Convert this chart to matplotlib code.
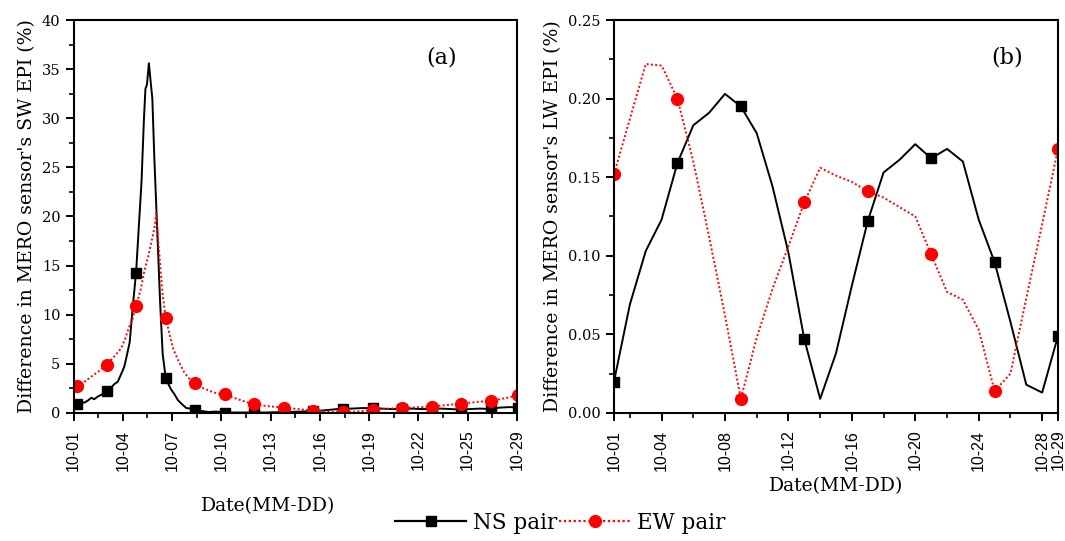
import numpy as np
import matplotlib.pyplot as plt
from matplotlib.lines import Line2D
from matplotlib.ticker import MultipleLocator, FixedLocator

# ---- panel (a): SW EPI difference, x in tick units (0 -> 10-01, 9 -> 10-29)
a_tick_labels = ['10-01', '10-04', '10-07', '10-10', '10-13',
                 '10-16', '10-19', '10-22', '10-25', '10-29']

a_ns_x = [0.07, 0.15, 0.22, 0.30, 0.36, 0.42, 0.50, 0.58, 0.67, 0.75,
          0.82, 0.90, 0.97, 1.03, 1.08, 1.14, 1.21, 1.27, 1.32, 1.38,
          1.43, 1.46, 1.49, 1.53, 1.57, 1.60, 1.64, 1.68, 1.72, 1.76,
          1.81, 1.87, 1.93, 1.98, 2.05, 2.12, 2.20, 2.29, 2.38, 2.47,
          2.60, 2.75, 2.90, 3.07, 3.30, 3.50, 3.67, 3.90, 4.10, 4.27,
          4.45, 4.65, 4.87, 5.05, 5.25, 5.47, 5.65, 5.85, 6.07, 6.25,
          6.45, 6.67, 6.85, 7.05, 7.27, 7.45, 7.65, 7.87, 8.05, 8.25,
          8.47, 8.65, 8.85, 9.07]
a_ns_y = [0.95, 1.10, 1.05, 1.30, 1.55, 1.40, 1.70, 1.90, 2.20, 2.50,
          2.90, 3.20, 4.00, 4.70, 5.80, 7.20, 11.2, 14.3, 18.5, 23.5,
          30.0, 33.0, 33.4, 35.6, 33.5, 32.0, 26.0, 21.0, 16.0, 11.0,
          6.00, 3.60, 2.90, 2.40, 1.90, 1.30, 0.90, 0.50, 0.45, 0.35,
          0.20, 0.10, 0.15, 0.05, 0.05, 0.05, 0.05, 0.05, 0.08, 0.10,
          0.12, 0.15, 0.20, 0.25, 0.35, 0.45, 0.45, 0.50, 0.50, 0.45,
          0.40, 0.40, 0.45, 0.40, 0.40, 0.45, 0.40, 0.35, 0.40, 0.45,
          0.40, 0.55, 0.60, 0.55]

a_ew_x = [0.07, 0.20, 0.36, 0.50, 0.67, 0.80, 0.97, 1.05, 1.14, 1.20,
          1.27, 1.36, 1.44, 1.52, 1.59, 1.64, 1.68, 1.72, 1.76, 1.81,
          1.87, 1.95, 2.02, 2.12, 2.25, 2.35, 2.47, 2.60, 2.79, 2.90,
          3.07, 3.25, 3.40, 3.55, 3.67, 3.85, 4.05, 4.27, 4.45, 4.65,
          4.87, 5.05, 5.25, 5.47, 5.65, 5.85, 6.07, 6.25, 6.45, 6.67,
          6.85, 7.05, 7.27, 7.45, 7.65, 7.87, 8.05, 8.25, 8.47, 8.65,
          8.85, 9.07]
a_ew_y = [2.70, 3.10, 3.70, 4.20, 4.90, 5.60, 6.60, 7.60, 8.90, 9.60,
          10.9, 12.5, 14.5, 16.0, 17.6, 18.8, 20.3, 17.5, 15.0, 12.0,
          9.70, 8.00, 6.60, 5.40, 4.10, 3.50, 3.05, 2.60, 2.20, 2.00,
          1.90, 1.55, 1.30, 1.05, 0.90, 0.75, 0.65, 0.55, 0.45, 0.35,
          0.25, 0.18, 0.12, 0.10, 0.12, 0.20, 0.30, 0.40, 0.45, 0.50,
          0.55, 0.60, 0.65, 0.75, 0.85, 0.95, 1.05, 1.15, 1.25, 1.40,
          1.60, 1.90]

a_mark_x = [0.07, 0.67, 1.27, 1.87, 2.47, 3.07, 3.67, 4.27,
            4.87, 5.47, 6.07, 6.67, 7.27, 7.87, 8.47, 9.02]
a_ns_mark = [0.95, 2.2, 14.3, 3.6, 0.35, 0.05, 0.05, 0.1,
             0.2, 0.45, 0.5, 0.4, 0.4, 0.35, 0.4, 0.55]
a_ew_mark = [2.7, 4.9, 10.9, 9.7, 3.05, 1.9, 0.9, 0.55,
             0.25, 0.1, 0.3, 0.5, 0.65, 0.95, 1.25, 1.8]

# ---- panel (b): LW EPI difference, daily
b_days = [1, 2, 3, 4, 5, 6, 7, 8, 9, 10, 11, 12, 13, 14, 15,
          16, 17, 18, 19, 20, 21, 22, 23, 24, 25, 26, 27, 28, 29]
b_ns = [0.020, 0.069, 0.103, 0.123, 0.159, 0.183, 0.191, 0.203, 0.195, 0.178,
        0.144, 0.102, 0.047, 0.009, 0.038, 0.081, 0.122, 0.153, 0.161, 0.171,
        0.162, 0.168, 0.160, 0.123, 0.096, 0.058, 0.018, 0.013, 0.049]
b_ew = [0.152, 0.187, 0.222, 0.221, 0.200, 0.160, 0.112, 0.062, 0.009, 0.048,
        0.079, 0.106, 0.134, 0.156, 0.151, 0.147, 0.141, 0.137, 0.131, 0.125,
        0.101, 0.077, 0.072, 0.053, 0.014, 0.025, 0.073, 0.120, 0.168]
b_major = [1, 4, 8, 12, 16, 20, 24, 28, 29]
b_tick_labels = ['10-01', '10-04', '10-08', '10-12', '10-16',
                 '10-20', '10-24', '10-28', '10-29']
b_minor = [2, 6, 10, 14, 18, 22, 26]

serif = 'DejaVu Serif'
sans = 'Liberation Sans'
red_dots = (0, (1, 1.2))

fig = plt.figure(figsize=(10.65, 5.41), dpi=100)
ax1 = fig.add_axes([73.5 / 1065, 128 / 541, 443.5 / 1065, 393 / 541])
ax2 = fig.add_axes([614 / 1065, 128 / 541, 444 / 1065, 393 / 541])

# panel a
ax1.plot(a_ns_x, a_ns_y, color='black', lw=1.4)
ax1.plot(a_ew_x, a_ew_y, color='red', lw=1.4, ls=red_dots)
ax1.plot(a_mark_x, a_ns_mark, ls='none', marker='s', ms=7.5, color='black')
ax1.plot(a_mark_x, a_ew_mark, ls='none', marker='o', ms=8.5, color='red')
ax1.set_xlim(0, 9)
ax1.set_ylim(0, 40)
ax1.xaxis.set_major_locator(FixedLocator(range(10)))
ax1.set_xticklabels(a_tick_labels)
ax1.xaxis.set_minor_locator(MultipleLocator(0.5))
ax1.yaxis.set_major_locator(MultipleLocator(5))
ax1.yaxis.set_minor_locator(MultipleLocator(2.5))
ax1.set_ylabel("Difference in MERO sensor's SW EPI (%)", fontsize=13.6,
               family=serif, labelpad=4)
ax1.text(0.83, 0.905, '(a)', transform=ax1.transAxes, fontsize=16,
         family=serif, ha='center', va='center')

# panel b
ax2.plot(b_days, b_ns, color='black', lw=1.4, marker='s', ms=7.5,
         markevery=4)
ax2.plot(b_days, b_ew, color='red', lw=1.4, ls=red_dots, marker='o',
         ms=8.5, markevery=4)
ax2.set_xlim(1, 29)
ax2.set_ylim(0, 0.25)
ax2.xaxis.set_major_locator(FixedLocator(b_major))
ax2.set_xticklabels(b_tick_labels)
ax2.xaxis.set_minor_locator(FixedLocator(b_minor))
ax2.yaxis.set_major_locator(MultipleLocator(0.05))
ax2.yaxis.set_minor_locator(MultipleLocator(0.025))
ax2.set_yticks([0, 0.05, 0.10, 0.15, 0.20, 0.25])
ax2.set_yticklabels(['0.00', '0.05', '0.10', '0.15', '0.20', '0.25'])
ax2.set_ylabel("Difference in MERO sensor's LW EPI (%)", fontsize=13.6,
               family=serif, labelpad=4)
ax2.text(0.885, 0.905, '(b)', transform=ax2.transAxes, fontsize=16,
         family=serif, ha='center', va='center')

for ax in (ax1, ax2):
    for sp in ax.spines.values():
        sp.set_linewidth(1.5)
    ax.tick_params(which='major', direction='out', length=6, width=1.4)
    ax.tick_params(which='minor', direction='out', length=3.5, width=1.2)
    ax.tick_params(axis='x', which='major', labelrotation=90, pad=6)
    for lab in ax.get_xticklabels():
        lab.set_family(sans)
        lab.set_fontsize(11.5)
    for lab in ax.get_yticklabels():
        lab.set_family(serif)
        lab.set_fontsize(10.5)

fig.text(268 / 1065, 1 - 506 / 541, 'Date(MM-DD)', family=serif,
         fontsize=13.5, ha='center', va='center')
fig.text(836 / 1065, 1 - 486 / 541, 'Date(MM-DD)', family=serif,
         fontsize=13.5, ha='center', va='center')

handles = [Line2D([], [], color='black', lw=1.6, marker='s', ms=7.5),
           Line2D([], [], color='red', lw=1.6, ls=red_dots, marker='o', ms=8.5)]
fig.legend(handles, ['NS pair', 'EW pair'], loc='center', ncol=2,
           bbox_to_anchor=(560 / 1065, 1 - 523 / 541), frameon=False,
           prop={'family': serif, 'size': 15.5}, handlelength=3.3,
           handletextpad=0.3, columnspacing=0.1)

fig.savefig('out.png', dpi=100)
